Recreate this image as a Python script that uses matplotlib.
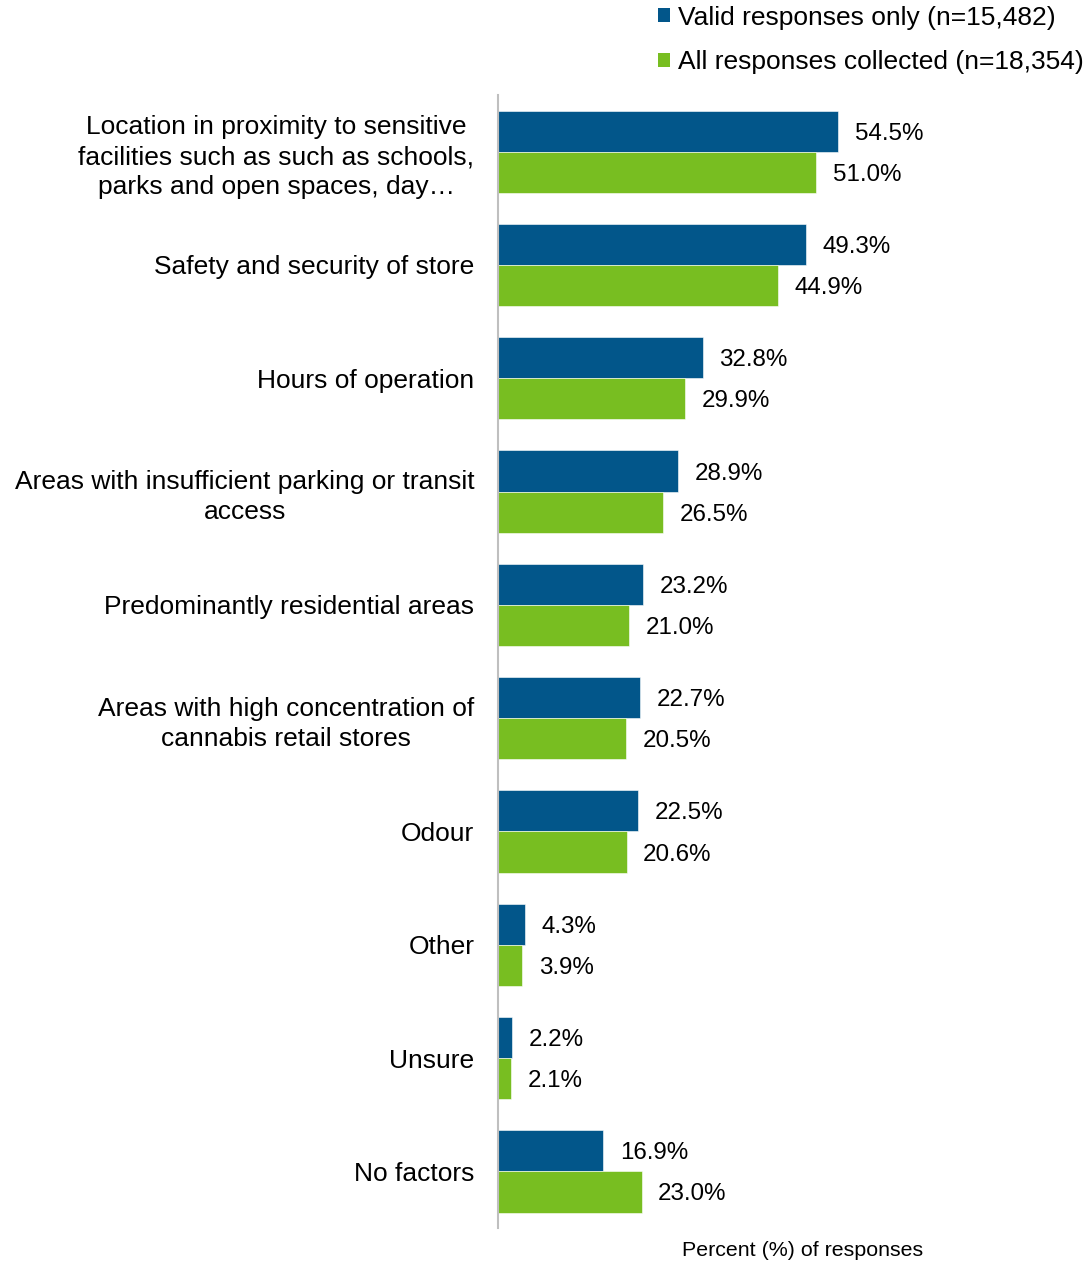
import numpy as np
import matplotlib.pyplot as plt
from matplotlib.patches import Patch

plt.rcParams['font.family'] = ['Liberation Sans', 'DejaVu Sans']

# Factors to consider when locating cannabis retail stores
categories = [
    'Location in proximity to sensitive\nfacilities such as such as schools,\nparks and open spaces, day\u2026',
    'Safety and security of store',
    'Hours of operation',
    'Areas with insufficient parking or transit\naccess',
    'Predominantly residential areas',
    'Areas with high concentration of\ncannabis retail stores',
    'Odour',
    'Other',
    'Unsure',
    'No factors',
]
valid_only = [54.5, 49.3, 32.8, 28.9, 23.2, 22.7, 22.5, 4.3, 2.2, 16.9]
all_collected = [51.0, 44.9, 29.9, 26.5, 21.0, 20.5, 20.6, 3.9, 2.1, 23.0]
series_names = ['Valid responses only (n=15,482)', 'All responses collected (n=18,354)']

blue = '#02568A'
green = '#78BE21'

fig = plt.figure(figsize=(10.89, 12.62), dpi=100)
ax = fig.add_axes([0.4573, 0.0269, 0.5427, 0.8978])

y = np.arange(len(categories))
h = 0.363
ax.barh(y - h / 2, valid_only, height=h, color=blue, edgecolor='white', linewidth=0.4)
ax.barh(y + h / 2, all_collected, height=h, color=green, edgecolor='white', linewidth=0.4)

for i, (v, a) in enumerate(zip(valid_only, all_collected)):
    ax.annotate(f'{v:.1f}%', (v, i - h / 2), xytext=(12, 0), textcoords='offset points',
                va='center_baseline', ha='left', fontsize=17.4)
    ax.annotate(f'{a:.1f}%', (a, i + h / 2), xytext=(12, 0), textcoords='offset points',
                va='center_baseline', ha='left', fontsize=17.4)

ax.set_xlim(0, 94.7)
ax.set_ylim(len(categories) - 0.5, -0.5)
ax.set_xticks([])
ax.set_yticks(y)
ax.set_yticklabels(categories, fontsize=19, multialignment='center', linespacing=1.32)
ax.tick_params(axis='y', length=0, pad=17)
for s in ['top', 'right', 'bottom']:
    ax.spines[s].set_visible(False)
ax.spines['left'].set_color('#BFBFBF')
ax.spines['left'].set_linewidth(1.5)

fig.text(0.737, 0.0095, 'Percent (%) of responses', ha='center', va='center', fontsize=15.4)

handles = [Patch(facecolor=blue), Patch(facecolor=green)]
fig.legend(handles, series_names, loc='upper right', bbox_to_anchor=(1.005, 1.004),
           frameon=False, fontsize=19, handlelength=0.45, handleheight=0.45,
           handletextpad=0.3, labelspacing=0.78, borderaxespad=0)

fig.savefig('out.png', dpi=100)
